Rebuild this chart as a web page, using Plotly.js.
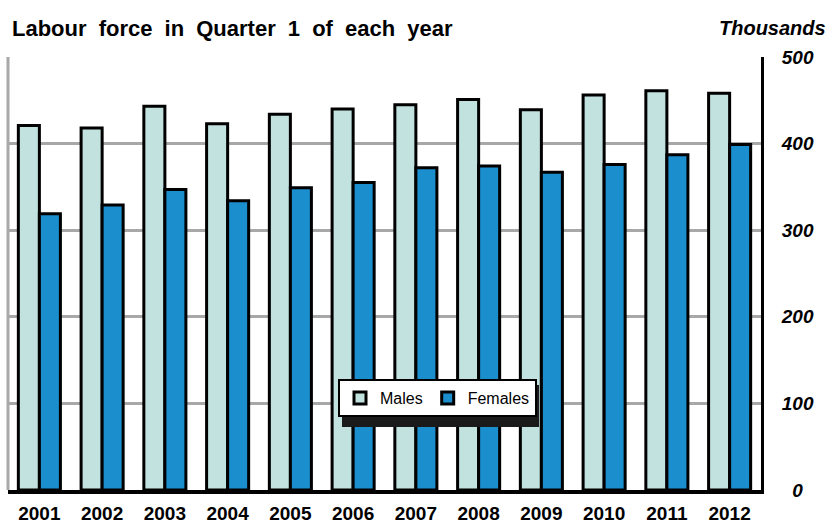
<!DOCTYPE html>
<html>
<head>
<meta charset="utf-8">
<script src="https://cdn.plot.ly/plotly-3.0.1.min.js"></script>
<style>
html,body{margin:0;padding:0;background:#fff;}
#chart{width:832px;height:525px;}
.gtitle{word-spacing:6px;}
</style>
</head>
<body>
<div id="chart"></div>
<script>
const years = ["2001","2002","2003","2004","2005","2006","2007","2008","2009","2010","2011","2012"];
const males = [421,418,443,423,434,440,445,451,439,456,461,458];
const females = [319,329,347,334,349,355,372,374,367,376,387,399];
const yTickVals = [0,100,200,300,400,500];
const yTickText = ["\u20070","100","200","300","400","500"];

const FONT = "Liberation Sans, Arial, Helvetica, sans-serif";

const data = [
  {type:"bar", name:"Males", x:years, y:males,
   marker:{color:"#C2E2E0", line:{color:"#000000", width:3}}},
  {type:"bar", name:"Females", x:years, y:females,
   marker:{color:"#1B8FCE", line:{color:"#000000", width:3}}}
];

const layout = {
  width:832, height:525,
  margin:{l:8, r:71, t:57, b:35, pad:0},
  paper_bgcolor:"#ffffff", plot_bgcolor:"#ffffff",
  font:{family:FONT, color:"#000000"},
  barmode:"group", bargap:0.33, bargroupgap:0,
  showlegend:true,
  title:{text:"Labour force in Quarter 1 of each year", x:12/832, xanchor:"left",
         y:1-28/525, yanchor:"middle",
         font:{family:FONT, size:22, weight:"bold", color:"#000"}},
  xaxis:{type:"category", showgrid:false, zeroline:false,
         showline:true, linecolor:"#000", linewidth:4,
         ticks:"", ticklabelstandoff:3,
         tickfont:{family:FONT, size:19, weight:"bold", color:"#000"}},
  yaxis:{side:"right", range:[0,500], tickvals:yTickVals, ticktext:yTickText,
         showgrid:true, gridcolor:"#A8A8A8", gridwidth:3, zeroline:false,
         showline:true, linecolor:"#000", linewidth:3,
         ticks:"", ticklabelstandoff:14,
         tickfont:{family:FONT, size:19, weight:"bold", style:"italic", color:"#000"}},
  legend:{orientation:"h", x:(338-8)/753, xanchor:"left", y:(490-379)/433, yanchor:"top",
          bgcolor:"#ffffff", bordercolor:"#000", borderwidth:2,
          font:{family:FONT, size:16, color:"#000"}, itemwidth:30},
  shapes:[
    {type:"line", xref:"paper", yref:"paper", x0:0, x1:0, y0:0, y1:1,
     line:{color:"#A8A8A8", width:3}, layer:"above"},
    {type:"rect", xref:"paper", yref:"paper",
     x0:(342-8)/753, x1:(539-8)/753, y0:(490-427)/433, y1:(490-385)/433,
     fillcolor:"#1a1a1a", line:{width:0}, layer:"above"}
  ],
  annotations:[
    {text:"Thousands", xref:"paper", yref:"paper", x:(828-8)/753, xanchor:"right",
     y:(490-28)/433, yanchor:"middle", showarrow:false,
     font:{family:FONT, size:20, weight:"bold", style:"italic", color:"#000"}}
  ]
};

Plotly.newPlot("chart", data, layout, {displayModeBar:false, staticPlot:true});
</script>
</body>
</html>
